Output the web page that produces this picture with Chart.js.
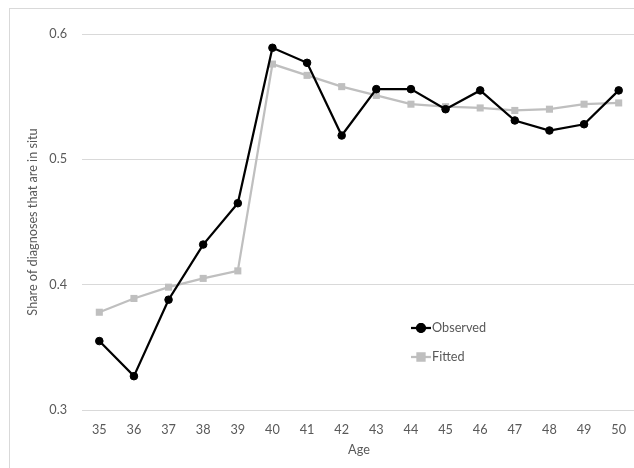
<!DOCTYPE html>
<html>
<head>
<meta charset="utf-8">
<script src="https://cdn.jsdelivr.net/npm/chart.js@4/dist/chart.umd.min.js"></script>
<style>
  html, body { margin: 0; padding: 0; background: #fff; overflow: hidden; }
  #wrap { position: absolute; left: 0; top: 0; width: 646px; height: 468px; }
</style>
</head>
<body>
<div id="wrap"><canvas id="c" width="646" height="468"></canvas></div>
<script>
const ages = ['35','36','37','38','39','40','41','42','43','44','45','46','47','48','49','50'];
const observed = [0.355, 0.327, 0.388, 0.432, 0.465, 0.589, 0.577, 0.519, 0.556, 0.556, 0.540, 0.555, 0.531, 0.523, 0.528, 0.555];
const fitted   = [0.378, 0.389, 0.398, 0.405, 0.411, 0.576, 0.567, 0.558, 0.551, 0.544, 0.542, 0.541, 0.539, 0.540, 0.544, 0.545];
const yTicks = [0.3, 0.4, 0.5, 0.6];

const FONT = 'Lato, "Open Sans", sans-serif';
const FS = 12.7;
const TXT = '#595959';

const frame = {
  id: 'frame',
  beforeDraw(chart) {
    const ctx = chart.ctx;
    ctx.save();
    ctx.strokeStyle = '#d9d9d9';
    ctx.lineWidth = 1;
    ctx.strokeRect(9.5, 8.5, 1000, 1000);
    ctx.restore();
  }
};

const innerLegend = {
  id: 'innerLegend',
  afterDatasetsDraw(chart) {
    const ctx = chart.ctx;
    const items = [
      { ds: chart.data.datasets[0], y: 328 },
      { ds: chart.data.datasets[1], y: 357 }
    ];
    const x0 = 411, x1 = 431;
    ctx.save();
    items.forEach(it => {
      const ds = it.ds;
      ctx.strokeStyle = ds.borderColor;
      ctx.lineWidth = ds.borderWidth;
      ctx.beginPath();
      ctx.moveTo(x0, it.y);
      ctx.lineTo(x1, it.y);
      ctx.stroke();
      Chart.helpers.drawPoint(ctx, {
        pointStyle: ds.pointStyle,
        radius: ds.pointRadius,
        borderWidth: ds.pointBorderWidth,
        rotation: 0
      }, (x0 + x1) / 2, it.y);
      ctx.fillStyle = ds.pointBackgroundColor;
      ctx.strokeStyle = ds.pointBorderColor;
      ctx.fill();
      ctx.stroke();
      ctx.fillStyle = TXT;
      ctx.font = FS + 'px ' + FONT;
      ctx.textAlign = 'left';
      ctx.textBaseline = 'middle';
      ctx.fillText(ds.label, x1 + 1, it.y);
    });
    ctx.restore();
  }
};

new Chart(document.getElementById('c'), {
  type: 'line',
  data: {
    labels: ages,
    datasets: [
      {
        label: 'Observed',
        data: observed,
        borderColor: '#000000',
        backgroundColor: '#000000',
        borderWidth: 2.25,
        pointStyle: 'circle',
        pointRadius: 3.8,
        pointBorderWidth: 1,
        pointBackgroundColor: '#000000',
        pointBorderColor: '#000000',
        tension: 0,
        order: 1
      },
      {
        label: 'Fitted',
        data: fitted,
        borderColor: '#bfbfbf',
        backgroundColor: '#bfbfbf',
        borderWidth: 2.25,
        pointStyle: 'rect',
        pointRadius: 5,
        pointBorderWidth: 0,
        pointBackgroundColor: '#bfbfbf',
        pointBorderColor: '#bfbfbf',
        tension: 0,
        order: 2
      }
    ]
  },
  options: {
    responsive: false,
    animation: false,
    devicePixelRatio: 1,
    layout: { padding: { left: 0, top: 34, right: 10, bottom: 0 } },
    plugins: {
      legend: { display: false },
      tooltip: { enabled: false },
      title: { display: false }
    },
    scales: {
      x: {
        type: 'category',
        offset: true,
        grid: { display: false, drawTicks: false },
        border: { display: false },
        ticks: { color: TXT, font: { family: FONT, size: FS }, padding: 12, maxRotation: 0, autoSkip: false },
        title: { display: true, text: 'Age', color: TXT, font: { family: FONT, size: FS }, padding: { top: 4, bottom: 10 } },
        afterFit(scale) { scale.height = 58; }
      },
      y: {
        min: 0.3,
        max: 0.6,
        afterBuildTicks(scale) { scale.ticks = yTicks.map(v => ({ value: v })); },
        grid: { color: '#d9d9d9', lineWidth: 1, drawTicks: false },
        border: { display: false },
        ticks: { color: TXT, font: { family: FONT, size: FS }, padding: 15, callback: v => String(v) },
        title: { display: true, text: 'Share of diagnoses that are in situ', color: TXT, font: { family: FONT, size: FS }, padding: { top: 25, bottom: 0 } },
        afterFit(scale) { scale.width = 82; }
      }
    }
  },
  plugins: [frame, innerLegend]
});
</script>
</body>
</html>
